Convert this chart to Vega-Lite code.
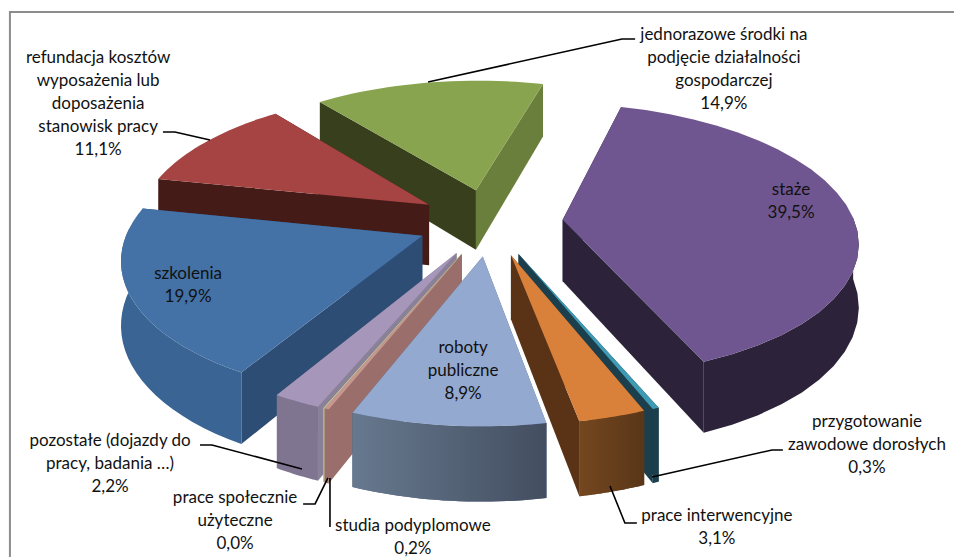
{"$schema":"https://vega.github.io/schema/vega-lite/v6.json","width":954,"height":557,"autosize":{"type":"none"},"padding":0,"background":"white","view":{"stroke":null},
"data":{"values":[
{"id":"gr","ord":1,"value":14.9,"label":"jednorazowe środki na\npodjęcie działalności\ngospodarczej"},
{"id":"re","ord":10,"value":11.1,"label":"refundacja kosztów\nwyposażenia lub\ndoposażenia\nstanowisk pracy"},
{"id":"pu","ord":2,"value":39.5,"label":"staże"},
{"id":"bl","ord":9,"value":19.9,"label":"szkolenia"},
{"id":"po","ord":8,"value":2.2,"label":"pozostałe (dojazdy do\npracy, badania …)"},
{"id":"sp","ord":7,"value":0.04,"label":"prace społecznie\nużyteczne"},
{"id":"st","ord":6,"value":0.2,"label":"studia podyplomowe"},
{"id":"te","ord":3,"value":0.3,"label":"przygotowanie\nzawodowe dorosłych"},
{"id":"or","ord":4,"value":3.1,"label":"prace interwencyjne"},
{"id":"ro","ord":5,"value":8.9,"label":"roboty\npubliczne"}
]},
"transform":[
{"stack":"value","sort":[{"field":"ord","order":"ascending"}],"as":["s0","s1"]},
{"joinaggregate":[{"op":"sum","field":"value","as":"total"}]},
{"calculate":"(-38.3+360*datum.s0/datum.total)*PI/180","as":"a0"},
{"calculate":"(-38.3+360*datum.s1/datum.total)*PI/180","as":"a1"},
{"calculate":"0.25*sin((datum.a0+datum.a1)/2)","as":"ex"},
{"calculate":"0.25*cos((datum.a0+datum.a1)/2)","as":"ey"}
],
"encoding":{
"x":{"field":"X","type":"quantitative","scale":{"domain":[-1.678,1.589],"nice":false,"zero":false},"axis":null},
"y":{"field":"Y","type":"quantitative","scale":{"domain":[-2.5,1.657],"nice":false,"zero":false},"axis":null}
},
"layer":[
{"transform":[
{"calculate":"[0,1]","as":"ws"},{"flatten":["ws"],"as":["w"]},
{"calculate":"[0,1,2,3]","as":"is"},{"flatten":["is"],"as":["i"]},
{"calculate":"datum.w==0?datum.a0:datum.a1","as":"a"},
{"calculate":"(datum.i==1||datum.i==2)?1:0","as":"r"},
{"calculate":"datum.i>=2?1:0","as":"z"},
{"calculate":"datum.ey+datum.r*cos(datum.a)","as":"py"},
{"calculate":"(datum.ex+datum.r*sin(datum.a))/(1+0.145*datum.py)","as":"X"},
{"calculate":"(datum.py-0.46*datum.z)/(1+0.145*datum.py)","as":"Y"},
{"calculate":"'w'+datum.w+'|'+datum.id","as":"part"}],
"mark":{"type":"line","filled":true,"strokeWidth":0.5},
"encoding":{"order":{"field":"i","type":"quantitative"},
"color":{"field":"part","type":"nominal","legend":null,"scale":{"domain":["rim|gr","rim|re","rim|pu","rim|bl","rim|po","rim|sp","rim|st","rim|te","rim|or","rim|ro","w0|gr","w1|gr","w0|re","w1|re","w0|pu","w1|pu","w0|bl","w1|bl","w0|po","w1|po","w0|sp","w1|sp","w0|st","w1|st","w0|te","w1|te","w0|or","w1|or","w0|ro","w1|ro","top|gr","top|re","top|pu","top|bl","top|po","top|sp","top|st","top|te","top|or","top|ro"],
"range":["#6b7f3c","#451b18","#2c2239","#3a6494","#7f7590","#b5b88a","#9a6f6b","#1b3f4c","#64401d","#566580",
"#383f1c","#6b7f3c","#451b18","#451b18","#2c2239","#2c2239","#2d4d74","#2d4d74","#8a8199","#8a8199","#b5b88a","#b5b88a","#9a6f6b","#9a6f6b","#1b3f4c","#1b3f4c","#5a3316","#5a3316","#566580","#566580",
"#88a44e","#a54442","#705690","#4472a6","#a696b9","#c9d0a0","#c9968f","#3e9bb3","#d9803b","#94a9d0"]}}}},
{"transform":[
{"calculate":"[0,0.04,0.08,0.12,0.16,0.2,0.24,0.28,0.32,0.36,0.4,0.44,0.48,0.52,0.56,0.6,0.64,0.68,0.72,0.76,0.8,0.84,0.88,0.92,0.96,1]","as":"fs"},
{"flatten":["fs"],"as":["f"]},
{"calculate":"[0,1]","as":"zs"},
{"flatten":["zs"],"as":["z"]},
{"calculate":"datum.a0+(datum.a1-datum.a0)*datum.f","as":"a"},
{"filter":"cos(datum.a)<0.1"},
{"calculate":"datum.ey+cos(datum.a)","as":"py"},
{"calculate":"(datum.ex+sin(datum.a))/(1+0.145*datum.py)","as":"X"},
{"calculate":"(datum.py-0.46*datum.z)/(1+0.145*datum.py)","as":"Y"},
{"calculate":"datum.z==0?datum.f:2-datum.f","as":"o"},
{"calculate":"'rim|'+datum.id","as":"part"}],
"mark":{"type":"line","filled":true,"strokeWidth":0.5,"interpolate":"linear"},
"encoding":{"order":{"field":"o","type":"quantitative"},"color":{"field":"part","type":"nominal","legend":null}}},
{"transform":[
{"filter":"datum.id=='ro'"},
{"calculate":"[0,0.04,0.08,0.12,0.16,0.2,0.24,0.28,0.32,0.36,0.4,0.44,0.48,0.52,0.56,0.6,0.64,0.68,0.72,0.76,0.8,0.84,0.88,0.92,0.96,1]","as":"fs"},
{"flatten":["fs"],"as":["f"]},
{"calculate":"[0,1]","as":"zs"},
{"flatten":["zs"],"as":["z"]},
{"calculate":"datum.a0+(datum.a1-datum.a0)*datum.f","as":"a"},
{"calculate":"datum.ey+cos(datum.a)","as":"py"},
{"calculate":"(datum.ex+sin(datum.a))/(1+0.145*datum.py)","as":"X"},
{"calculate":"(datum.py-0.46*datum.z)/(1+0.145*datum.py)","as":"Y"},
{"calculate":"datum.z==0?datum.f:2-datum.f","as":"o"}],
"mark":{"type":"line","filled":true,"strokeWidth":0,"color":{"gradient":"linear","x1":0,"x2":1,"y1":0,"y2":0,"stops":[{"offset":0,"color":"#67798f"},{"offset":1,"color":"#434e60"}]}},
"encoding":{"order":{"field":"o","type":"quantitative"}}},
{"transform":[
{"filter":"datum.id=='or'"},
{"calculate":"[0,0.04,0.08,0.12,0.16,0.2,0.24,0.28,0.32,0.36,0.4,0.44,0.48,0.52,0.56,0.6,0.64,0.68,0.72,0.76,0.8,0.84,0.88,0.92,0.96,1]","as":"fs"},
{"flatten":["fs"],"as":["f"]},
{"calculate":"[0,1]","as":"zs"},
{"flatten":["zs"],"as":["z"]},
{"calculate":"datum.a0+(datum.a1-datum.a0)*datum.f","as":"a"},
{"calculate":"datum.ey+cos(datum.a)","as":"py"},
{"calculate":"(datum.ex+sin(datum.a))/(1+0.145*datum.py)","as":"X"},
{"calculate":"(datum.py-0.46*datum.z)/(1+0.145*datum.py)","as":"Y"},
{"calculate":"datum.z==0?datum.f:2-datum.f","as":"o"}],
"mark":{"type":"line","filled":true,"strokeWidth":0,"color":{"gradient":"linear","x1":0,"x2":1,"y1":0,"y2":0,"stops":[{"offset":0,"color":"#74471f"},{"offset":1,"color":"#593618"}]}},
"encoding":{"order":{"field":"o","type":"quantitative"}}},
{"transform":[
{"calculate":"[-1,0,0.04,0.08,0.12,0.16,0.2,0.24,0.28,0.32,0.36,0.4,0.44,0.48,0.52,0.56,0.6,0.64,0.68,0.72,0.76,0.8,0.84,0.88,0.92,0.96,1]","as":"fs"},
{"flatten":["fs"],"as":["f"]},
{"calculate":"datum.a0+(datum.a1-datum.a0)*max(datum.f,0)","as":"a"},
{"calculate":"datum.f<0?0:1","as":"r"},
{"calculate":"datum.ey+datum.r*cos(datum.a)","as":"py"},
{"calculate":"(datum.ex+datum.r*sin(datum.a))/(1+0.145*datum.py)","as":"X"},
{"calculate":"datum.py/(1+0.145*datum.py)","as":"Y"},
{"calculate":"'top|'+datum.id","as":"part"}],
"mark":{"type":"line","filled":true,"strokeWidth":0.5},
"encoding":{"order":{"field":"f","type":"quantitative"},"color":{"field":"part","type":"nominal","legend":null}}},
{"transform":[
{"filter":"datum.id!='pu'&&datum.id!='bl'&&datum.id!='ro'"},
{"calculate":"({re:[[-1.120,0.672,0],[-1.079,0.672,1],[-0.959,0.612,2]],gr:[[0.497,1.366,0],[0.452,1.366,1],[-0.212,1.045,2]],po:[[-0.993,-1.664,0],[-0.952,-1.664,1],[-0.644,-1.843,2]],sp:[[-0.640,-2.104,0],[-0.599,-2.104,1],[-0.555,-1.910,2]],st:[[-0.548,-2.276,0],[-0.548,-1.910,1]],or:[[0.503,-2.246,0],[0.462,-2.246,1],[0.411,-1.970,2]],te:[[1.003,-1.701,0],[0.966,-1.701,1],[0.555,-1.903,2]]})[datum.id]","as":"pts"},
{"flatten":["pts"],"as":["p"]},
{"calculate":"datum.p[0]","as":"X"},{"calculate":"datum.p[1]","as":"Y"},{"calculate":"datum.p[2]","as":"o"}],
"mark":{"type":"line","color":"#000000","strokeWidth":1.6},
"encoding":{"detail":{"field":"id"},"order":{"field":"o","type":"quantitative"}}},
{"transform":[
{"calculate":"({re:[-1.342,1.224],gr:[0.801,1.396],pu:[1.031,0.239],bl:[-1.034,-0.388],ro:[-0.092,-0.940],te:[1.291,-1.493],or:[0.777,-2.194],st:[-0.264,-2.269],sp:[-0.873,-2.060],po:[-1.301,-1.634]})[datum.id]","as":"p"},
{"calculate":"datum.p[0]","as":"X"},{"calculate":"datum.p[1]","as":"Y"},
{"calculate":"datum.label+'\\n'+replace(format(datum.value,'.1f'),'.',',')+'%'","as":"txt"}],
"mark":{"type":"text","font":"Lato","fontSize":17,"lineBreak":"\n","lineHeight":23,"align":"center","baseline":"middle","color":"#111111"},
"encoding":{"text":{"field":"txt"}}},
{"transform":[{"filter":"datum.id=='gr'"},{"calculate":"[[-1.644,-2.5,0],[-1.644,1.567,1],[1.589,1.567,2]]","as":"pts"},{"flatten":["pts"],"as":["p"]},{"calculate":"datum.p[0]","as":"X"},{"calculate":"datum.p[1]","as":"Y"},{"calculate":"datum.p[2]","as":"o"}],
"mark":{"type":"line","color":"#8c8c8c","strokeWidth":2},"encoding":{"order":{"field":"o","type":"quantitative"}}}
]}
